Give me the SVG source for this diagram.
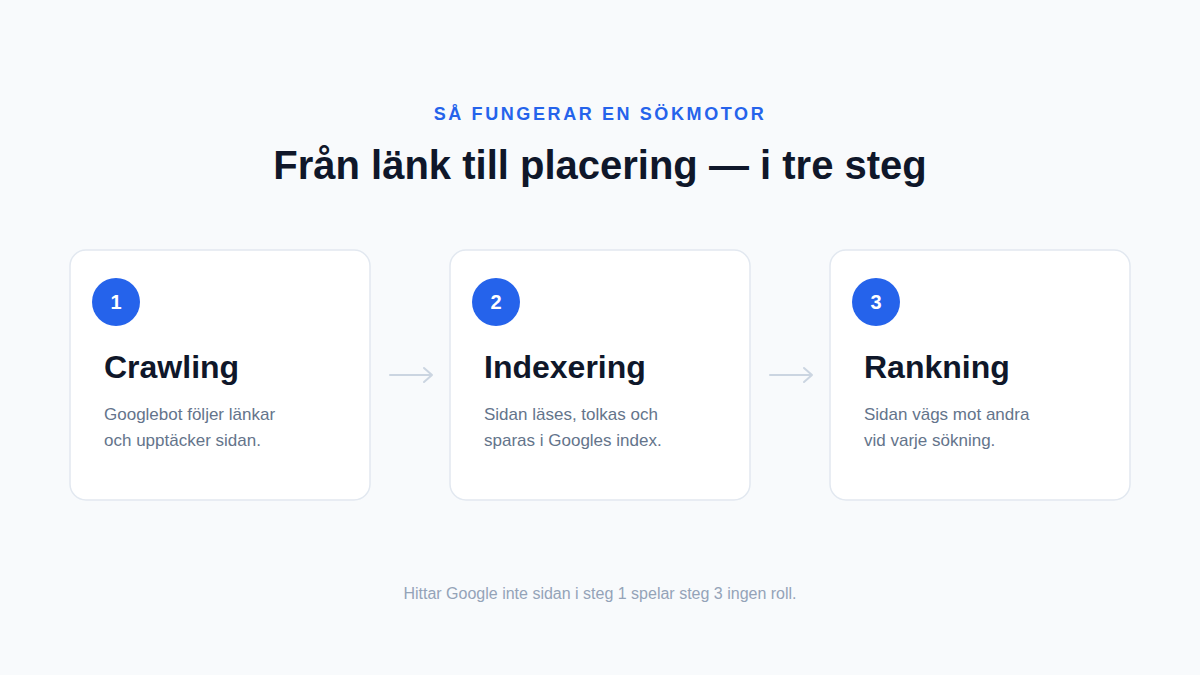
<svg xmlns="http://www.w3.org/2000/svg" width="1200" height="675" viewBox="0 0 1200 675">
<defs>
<style>
.bg{fill:#f8fafc}
.card{fill:#ffffff;stroke:#e2e8f0;stroke-width:1.5}
.badge{fill:#2563eb}
.num{font-family:"Liberation Sans",Arial,sans-serif;font-size:20px;font-weight:700;fill:#ffffff;text-anchor:middle}
.ttl{font-family:"Liberation Sans",Arial,sans-serif;font-size:32px;font-weight:700;fill:#0f172a}
.desc{font-family:"Liberation Sans",Arial,sans-serif;font-size:17px;fill:#64748b}
.conn{stroke:#cbd5e1;stroke-width:2;fill:none;stroke-linecap:round;stroke-linejoin:round}
</style>
</defs>
<rect class="bg" x="0" y="0" width="1200" height="675"/>
<text x="600" y="120" text-anchor="middle" font-family="Liberation Sans,Arial,sans-serif" font-size="18" font-weight="700" letter-spacing="2.6" fill="#2563eb">SÅ FUNGERAR EN SÖKMOTOR</text>
<text x="600" y="179" text-anchor="middle" font-family="Liberation Sans,Arial,sans-serif" font-size="40" font-weight="700" fill="#0f172a">Från länk till placering — i tre steg</text>
<g id="step1">
<rect class="card" x="70" y="250" width="300" height="250" rx="16"/>
<circle class="badge" cx="116" cy="302" r="24"/>
<text class="num" x="116" y="309">1</text>
<text class="ttl" x="104" y="378">Crawling</text>
<text class="desc" x="104" y="420">Googlebot följer länkar</text>
<text class="desc" x="104" y="446">och upptäcker sidan.</text>
</g>
<g id="step2">
<rect class="card" x="450" y="250" width="300" height="250" rx="16"/>
<circle class="badge" cx="496" cy="302" r="24"/>
<text class="num" x="496" y="309">2</text>
<text class="ttl" x="484" y="378">Indexering</text>
<text class="desc" x="484" y="420">Sidan läses, tolkas och</text>
<text class="desc" x="484" y="446">sparas i Googles index.</text>
</g>
<g id="step3">
<rect class="card" x="830" y="250" width="300" height="250" rx="16"/>
<circle class="badge" cx="876" cy="302" r="24"/>
<text class="num" x="876" y="309">3</text>
<text class="ttl" x="864" y="378">Rankning</text>
<text class="desc" x="864" y="420">Sidan vägs mot andra</text>
<text class="desc" x="864" y="446">vid varje sökning.</text>
</g>
<g id="connectors">
<path class="conn" d="M390 375 H432 M424 368 L432 375 L424 382"/>
<path class="conn" d="M770 375 H812 M804 368 L812 375 L804 382"/>
</g>
<text x="600" y="599" text-anchor="middle" font-family="Liberation Sans,Arial,sans-serif" font-size="16" fill="#94a3b8">Hittar Google inte sidan i steg 1 spelar steg 3 ingen roll.</text>
</svg>
